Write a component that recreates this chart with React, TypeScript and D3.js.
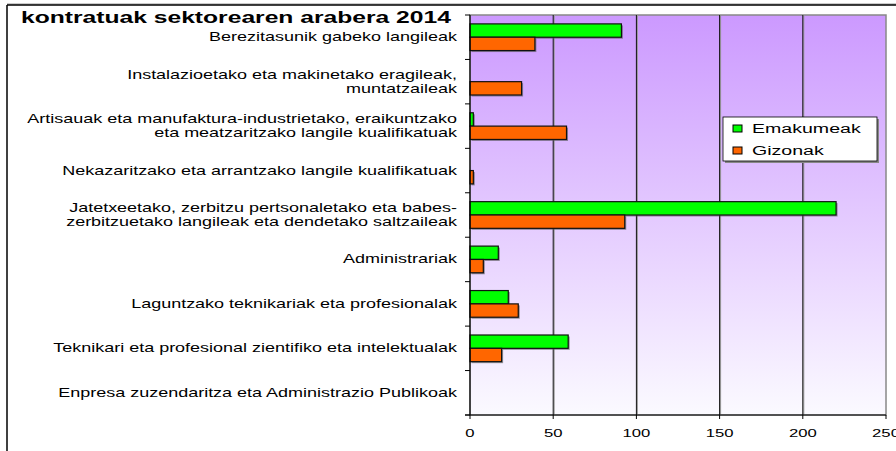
import React from 'react';
import * as d3 from 'd3';

// categories top to bottom, each label split into lines
const categories = [
  ['Berezitasunik gabeko langileak'],
  ['Instalazioetako eta makinetako eragileak,', 'muntatzaileak'],
  ['Artisauak eta manufaktura-industrietako, eraikuntzako', 'eta meatzaritzako langile kualifikatuak'],
  ['Nekazaritzako eta arrantzako langile kualifikatuak'],
  ['Jatetxeetako, zerbitzu pertsonaletako eta babes-', 'zerbitzuetako langileak eta dendetako saltzaileak'],
  ['Administrariak'],
  ['Laguntzako teknikariak eta profesionalak'],
  ['Teknikari eta profesional zientifiko eta intelektualak'],
  ['Enpresa zuzendaritza eta Administrazio Publikoak'],
];
const emakumeak = [91, 0, 2, 0, 220, 17, 23, 59, 0];
const gizonak = [39, 31, 58, 2, 93, 8, 29, 19, 0];
const seriesNames = ['Emakumeak', 'Gizonak'];
const seriesColors = ['#00FF00', '#FF6600'];
const xTicks = [0, 50, 100, 150, 200, 250];
const title = 'kontratuak sektorearen arabera 2014';

const W = 896, H = 451;
const margin = { top: 15, right: 10, bottom: 36, left: 470 };
const SX = 1.45; // the source text is stretched horizontally

export default function App() {
  const x = d3.scaleLinear().domain([0, 250]).range([margin.left, W - margin.right]);
  const y = d3.scaleBand<number>()
    .domain(d3.range(categories.length))
    .range([margin.top, H - margin.bottom])
    .paddingInner(0.4)
    .paddingOuter(0.2);
  const sub = d3.scaleBand<number>().domain([0, 1]).range([0, y.bandwidth()]);
  const step = y.step();
  const plotTop = margin.top, plotBottom = H - margin.bottom;
  const values = [emakumeak, gizonak];

  const stext = (tx: number, ty: number, s: string, props: any = {}, sx = SX) => (
    <text transform={`translate(${tx},${ty}) scale(${sx},1)`} {...props}>{s}</text>
  );

  return (
    <svg width={W} height={H} style={{ position: 'absolute', left: 0, top: 0 }}
      fontFamily="Arial, 'Liberation Sans', sans-serif">
      <defs>
        <linearGradient id="bg" x1="0" y1="0" x2="0" y2="1">
          <stop offset="0" stopColor="#CC99FF" />
          <stop offset="1" stopColor="#FBFAFF" />
        </linearGradient>
      </defs>
      <rect width={W} height={H} fill="#fff" />
      {/* outer frame */}
      <line x1={7} y1={4} x2={W} y2={4} stroke="#999" />
      <line x1={7} y1={5} x2={W} y2={5} stroke="#000" strokeWidth={1.5} />
      <line x1={7} y1={5} x2={7} y2={H} stroke="#000" strokeWidth={1.5} />

      {stext(21, 23, title, { fontSize: 17, fontWeight: 'bold' })}

      {/* plot area */}
      <rect x={x(0)} y={plotTop} width={x(250) - x(0)} height={plotBottom - plotTop}
        fill="url(#bg)" stroke="#888" strokeWidth={1.5} />
      {xTicks.slice(1, -1).map(t => (
        <g key={t}>
          <line x1={x(t) + 1} x2={x(t) + 1} y1={plotTop} y2={plotBottom} stroke="#999" />
          <line x1={x(t)} x2={x(t)} y1={plotTop} y2={plotBottom} stroke="#111" />
        </g>
      ))}

      {/* bars */}
      {values.map((vals, si) => vals.map((v, i) => v > 0 && (
        <g key={si + '-' + i}>
          <rect x={x(0) + 1.5} y={y(i)! + sub(si)! + 1.5} width={x(v) - x(0)} height={sub.bandwidth()}
            fill="#555" opacity={0.6} />
          <rect x={x(0)} y={y(i)! + sub(si)!} width={x(v) - x(0)} height={sub.bandwidth()}
            fill={seriesColors[si]} stroke="#111" strokeWidth={1.2} />
        </g>
      )))}

      {/* axes */}
      <line x1={x(0)} x2={x(0)} y1={plotTop} y2={plotBottom} stroke="#000" strokeWidth={1.2} />
      <line x1={x(0) - 5} x2={x(250)} y1={plotBottom} y2={plotBottom} stroke="#000" strokeWidth={1.2} />
      {d3.range(categories.length + 1).map(i => (
        <line key={i} x1={x(0) - 5} x2={x(0)} y1={plotTop + i * step} y2={plotTop + i * step}
          stroke="#000" />
      ))}
      {xTicks.map(t => (
        <g key={t}>
          <line x1={x(t)} x2={x(t)} y1={plotBottom} y2={plotBottom + 4} stroke="#000" />
          {stext(x(t), plotBottom + 22, String(t), { fontSize: 11.5, textAnchor: 'middle' })}
        </g>
      ))}

      {/* category labels */}
      {categories.map((lines, i) => {
        const cy = y(i)! + y.bandwidth() / 2;
        return lines.map((ln, j) => (
          <g key={i + '-' + j}>
            {stext(457, cy + (j - (lines.length - 1) / 2) * 14 + 4, ln, { fontSize: 12, textAnchor: 'end' }, 1.5)}
          </g>
        ));
      })}

      {/* legend */}
      <rect x={725} y={119} width={154} height={44} fill="#888" />
      <rect x={723} y={117} width={154} height={44} fill="#fff" stroke="#000" strokeWidth={0.8} />
      {seriesNames.map((n, si) => (
        <g key={n}>
          <rect x={733} y={125 + si * 22} width={9} height={7} fill={seriesColors[si]} stroke="#000" />
          {stext(752, 133 + si * 22, n, { fontSize: 13.5 })}
        </g>
      ))}
    </svg>
  );
}
